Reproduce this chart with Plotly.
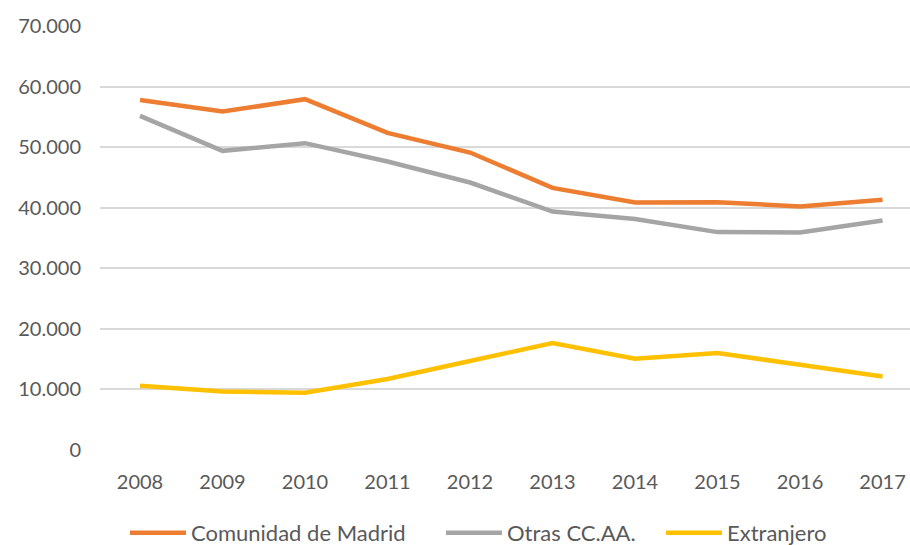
import plotly.graph_objects as go

years = [2008, 2009, 2010, 2011, 2012, 2013, 2014, 2015, 2016, 2017]
madrid = [57800, 55870, 57920, 52360, 49110, 43280, 40860, 40920, 40200, 41300]
otras = [55160, 49390, 50660, 47620, 44160, 39370, 38120, 35970, 35910, 37890]
extranjero = [10610, 9670, 9460, 11720, 14700, 17660, 15070, 16000, 14080, 12150]

series_names = ["Comunidad de Madrid", "Otras CC.AA.", "Extranjero"]
colors = ["#ED7D31", "#A5A5A5", "#FFC000"]

y_ticks = [0, 10000, 20000, 30000, 40000, 50000, 60000, 70000]
y_tick_text = ["0", "10.000", "20.000", "30.000", "40.000", "50.000", "60.000", "70.000"]
x_tick_text = [str(y) for y in years]

legend_ids = ["legend", "legend2", "legend3"]
legend_x = [125 / 910, 441 / 910, 661 / 910]

fig = go.Figure()
for name, vals, col, lid in zip(series_names, [madrid, otras, extranjero], colors, legend_ids):
    fig.add_trace(go.Scatter(
        x=years, y=vals, name=name, mode="lines",
        line=dict(color=col, width=4.5, shape="linear"),
        legend=lid,
    ))

font_family = "Lato, Carlito, Calibri, sans-serif"
legend_common = dict(orientation="h", xanchor="left",
                     xref="container", yref="container", y=0.022, yanchor="middle",
                     font=dict(size=22, color="#595959"),
                     itemwidth=56, bgcolor="rgba(0,0,0,0)")
fig.update_layout(
    width=910, height=545,
    margin=dict(l=100, r=0, t=26, b=95),
    paper_bgcolor="white", plot_bgcolor="white",
    font=dict(family=font_family, size=20, color="#595959"),
    showlegend=True,
    legend=dict(x=legend_x[0], **legend_common),
    legend2=dict(x=legend_x[1], **legend_common),
    legend3=dict(x=legend_x[2], **legend_common),
)
fig.update_xaxes(
    range=[2007.515, 2017.333],
    tickmode="array", tickvals=years, ticktext=x_tick_text,
    showgrid=False, zeroline=False, showline=False,
    ticks="", ticklabelstandoff=18,
)
fig.update_yaxes(
    range=[0, 70000],
    tickmode="array", tickvals=y_ticks, ticktext=y_tick_text,
    showgrid=True, gridcolor="#D9D9D9", gridwidth=1.5,
    zeroline=False, showline=False, ticks="", ticklabelstandoff=18,
)

fig.write_html(
    "out.html",
    config={"displayModeBar": False},
    post_script="document.body.style.margin='0';document.body.style.overflow='hidden';",
)
